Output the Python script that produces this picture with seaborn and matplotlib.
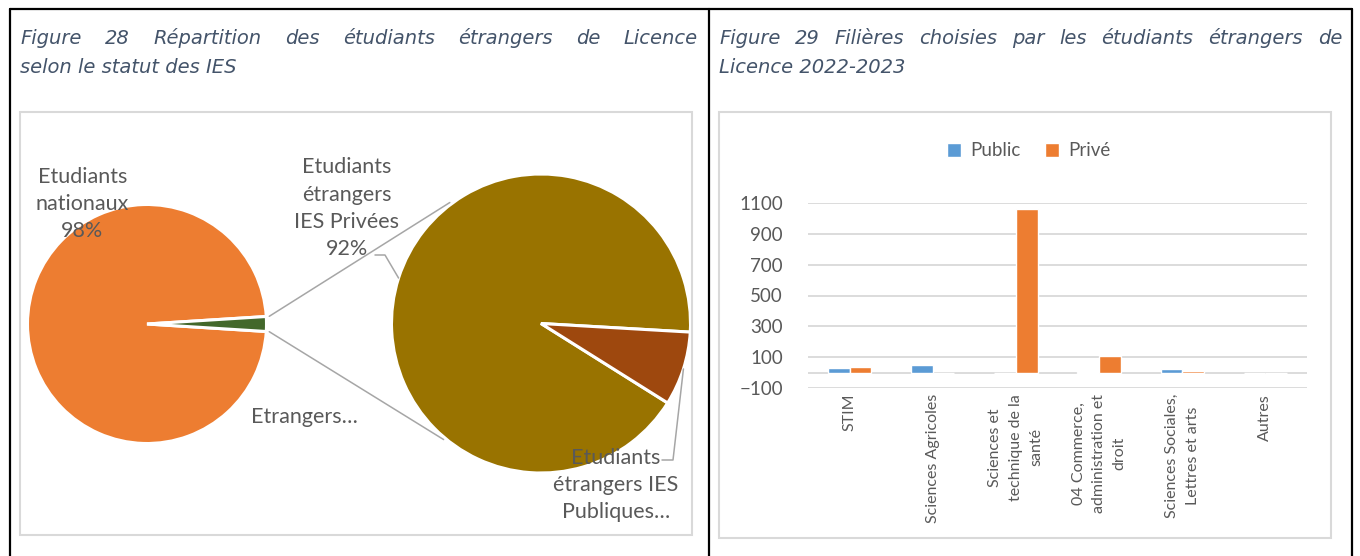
import numpy as np
import pandas as pd
import matplotlib
matplotlib.use("Agg")
import matplotlib.pyplot as plt
from matplotlib.patches import Rectangle
from matplotlib.lines import Line2D
import seaborn as sns

# --- data -------------------------------------------------------------
pie1_labels = ["Etudiants\nnationaux\n98%", "Etrangers…"]
pie1_values = [98, 2]
pie2_labels = ["Etudiants\nétrangers\nIES Privées\n92%", "Etudiants\nétrangers IES\nPubliques…"]
pie2_values = [92, 8]

filieres = ["STIM", "Sciences Agricoles", "Sciences et\ntechnique de la\nsanté",
            "04 Commerce,\nadministration et\ndroit", "Sciences Sociales,\nLettres et arts", "Autres"]
public = [31, 52, 0, 4, 24, 0]
prive = [37, 0, 1058, 109, 10, 0]
y_ticks = [-100, 100, 300, 500, 700, 900, 1100]

title_left = ["Figure 28 Répartition des étudiants étrangers de Licence", "selon le statut des IES"]
title_right = ["Figure 29 Filières choisies par les étudiants étrangers de", "Licence 2022-2023"]

# --- style -------------------------------------------------------------
sns.set_theme(style="white")
plt.rcParams["font.family"] = ["Lato", "DejaVu Sans"]
TXT = "#595959"
GRID = "#D9D9D9"
TITLE = "#44546A"
C_NAT, C_ETR = "#ED7D31", "#43682B"
C_PRIVEES, C_PUBLIQUES = "#997300", "#9E480E"
C_PUB, C_PRIV = "#5B9BD5", "#ED7D31"

W, H = 1360, 556
fig = plt.figure(figsize=(W / 100, H / 100), dpi=100)


def box(x0, y0, x1, y1):
    return [x0 / W, 1 - y1 / H, (x1 - x0) / W, (y1 - y0) / H]


def up(y):
    return H - y


# table borders and chart frames
for xs, ys in [((10, 1352), (9, 9)), ((10, 10), (9, 556)), ((709, 709), (9, 556)), ((1352, 1352), (9, 556))]:
    fig.add_artist(Line2D([x / W for x in xs], [1 - y / H for y in ys], color="black", lw=1.6))
for x0, y0, x1, y1 in [(20, 112, 692, 535), (719, 112, 1331, 538)]:
    fig.add_artist(Rectangle((x0 / W, 1 - y1 / H), (x1 - x0) / W, (y1 - y0) / H,
                             transform=fig.transFigure, fill=False, ec=GRID, lw=1.5))

# titles (justified first line)
renderer = fig.canvas.get_renderer()
tkw = dict(fontsize=14, style="italic", family="DejaVu Sans", color=TITLE, va="baseline")


def justified(line, x0, x1, yb):
    words = line.split()
    texts = [fig.text(0, 1 - yb / H, w, **tkw) for w in words]
    widths = [t.get_window_extent(renderer).width for t in texts]
    gap = (x1 - x0 - sum(widths)) / (len(words) - 1)
    x = x0
    for t, w in zip(texts, widths):
        t.set_x(x / W)
        x += w + gap


justified(title_left[0], 20, 698, 44)
fig.text(20 / W, 1 - 73 / H, title_left[1], **tkw)
justified(title_right[0], 719, 1342, 44)
fig.text(719 / W, 1 - 73 / H, title_right[1], **tkw)

# --- pie of pie ------------------------------------------------------
ax_p = fig.add_axes(box(20, 112, 692, 535))
c1, r1 = (147, up(324)), 119.5
c2, r2 = (541, up(323.5)), 149.5
w1, _ = ax_p.pie(pie1_values, colors=[C_NAT, C_ETR], center=c1, radius=r1,
                 startangle=3.6, counterclock=True,
                 wedgeprops=dict(edgecolor="white", linewidth=2.2))
w2, _ = ax_p.pie(pie2_values, colors=[C_PRIVEES, C_PUBLIQUES], center=c2, radius=r2,
                 startangle=-3.3, counterclock=True,
                 wedgeprops=dict(edgecolor="white", linewidth=2.2))
ax_p.set_xlim(20, 692)
ax_p.set_ylim(up(535), up(112))
ax_p.set_aspect("auto")
ax_p.axis("off")


def pt(c, r, ang):
    a = np.deg2rad(ang)
    return c[0] + r * np.cos(a), c[1] + r * np.sin(a)


# connector lines from the small slice to the second pie
g = w1[1]
for a1, a2 in [(g.theta2, 127), (g.theta1, 230)]:
    p, q = pt(c1, r1 + 3, a1), pt(c2, r2 + 2, a2)
    ax_p.plot([p[0], q[0]], [p[1], q[1]], color="#A6A6A6", lw=1.1)

# va="baseline" anchors the last line of a multi-line label
lkw = dict(fontsize=15.5, color=TXT, ha="center", va="baseline", linespacing=1.45)
ax_p.text(82.5, up(237), pie1_labels[0], **lkw)
ax_p.text(304, up(423), pie1_labels[1], **lkw)
ax_p.text(347, up(255), pie2_labels[0], **lkw)
ax_p.text(616, up(518), pie2_labels[1], **lkw)

# leader lines for the second pie labels
m = (w2[0].theta1 + w2[0].theta2) / 2
e = pt(c2, r2, m)
ax_p.plot([375, 385, e[0]], [up(255), up(255), e[1]], color="#A6A6A6", lw=1.1)
m = (w2[1].theta1 + w2[1].theta2) / 2
e = pt(c2, r2, m)
ax_p.plot([662, 673, e[0]], [up(460), up(460), e[1]], color="#A6A6A6", lw=1.1)

# --- bar chart ---------------------------------------------------------
df = pd.DataFrame({
    "Filière": filieres * 2,
    "Effectif": public + prive,
    "Statut": ["Public"] * len(filieres) + ["Privé"] * len(filieres),
})
ax_b = fig.add_axes(box(808, 202.7, 1307, 388.3))
sns.barplot(data=df, x="Filière", y="Effectif", hue="Statut", palette=[C_PUB, C_PRIV],
            saturation=1, width=0.52, ax=ax_b, zorder=3)
ax_b.set_ylim(-100, 1100)
ax_b.set_yticks(y_ticks)
ax_b.set_xlim(-0.5, len(filieres) - 0.5)
ax_b.grid(axis="y", color=GRID, lw=1.3, zorder=0)
ax_b.set_axisbelow(True)
ax_b.axhline(0, color=GRID, lw=1.3, zorder=1)
for s in ax_b.spines.values():
    s.set_visible(False)
ax_b.set_xlabel("")
ax_b.set_ylabel("")
ax_b.tick_params(axis="y", length=0, pad=18, labelsize=13.5, labelcolor=TXT)
ax_b.tick_params(axis="x", length=0, pad=4)
ax_b.set_xticks(range(len(filieres)))
ax_b.set_xticklabels(filieres, rotation=90, ha="center", va="top", multialignment="center",
                     fontsize=11.5, color=TXT, linespacing=1.6)
ax_b.legend(loc="center", bbox_to_anchor=(1029 / W, 1 - 151 / H), bbox_transform=fig.transFigure,
            ncol=2, frameon=False, fontsize=13.5, labelcolor=TXT, handlelength=0.75,
            handleheight=0.75, columnspacing=1.3, handletextpad=0.5)

fig.savefig("out.png", dpi=100, facecolor="white")
